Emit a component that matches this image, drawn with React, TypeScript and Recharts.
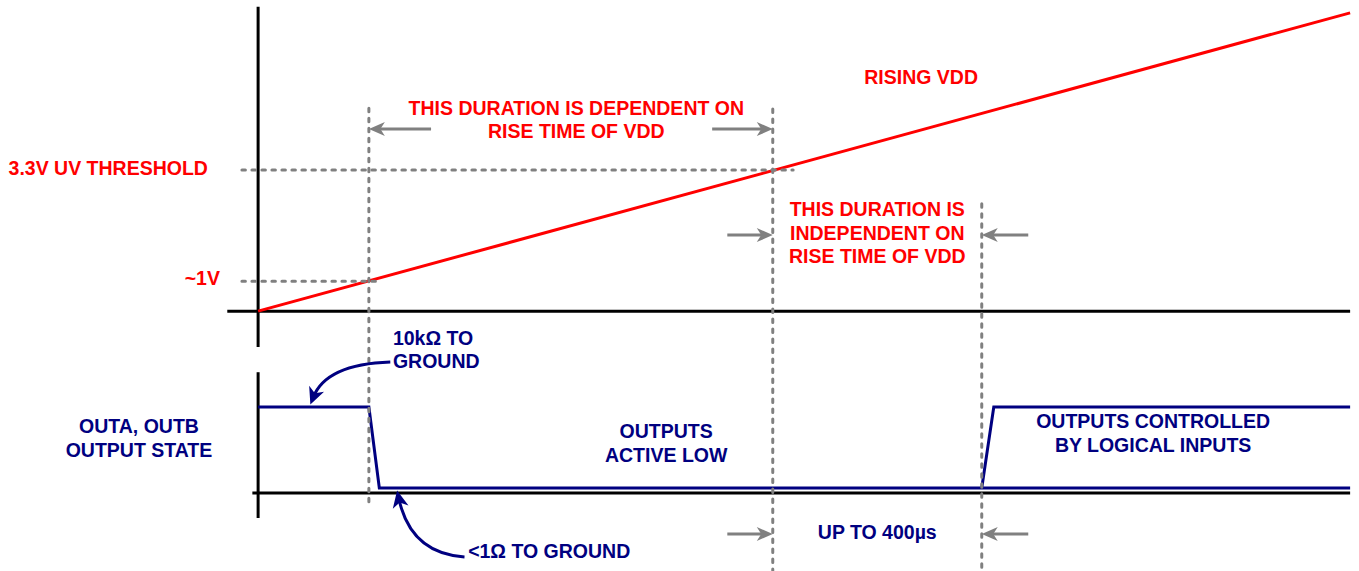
import React from 'react';
import { ComposedChart, XAxis, YAxis, Line, ReferenceLine, ReferenceDot } from 'recharts';

// ---- scales (time in µs, VDD in volts, output state 0 = low / 1 = high) ----
const timeDomain = [-494, 2107];
const voltDomain = [-6.08, 7.28];
const stateDomain = [-1.024, 6.025];

// ---- key instants (µs) ----
const t1V = 212;
const tUV = 985;
const tReady = 1385; // tUV + up to 400 µs
const tEnd = 2090;

// ---- VDD ramp ----
const vddTimes = [0, tEnd];
const vddVolts = [0, 6.98];

// ---- output state waveform ----
const outLowTimes = [0, t1V, 232, tEnd];
const outLowStates = [1, 1, 0, 0];
const outHighTimes = [tReady, 1408, tEnd];
const outHighStates = [0, 1, 1];

// ---- axes of both panels ----
const topAxisTimes = [-59, tEnd];
const topAxisVolts = [7.12, -0.84];
const bottomAxisTimes = [-11, tEnd];
const bottomAxisStates = [1.43, -0.37];
const bottomAxisLevel = -0.06;

// ---- dashed guides ----
const guideStart = -31;
const hGuideLevels = [3.3, 0.7];
const hGuideEnds = [1024, 233];
const vGuideTimes = [t1V, tUV, tReady];
const vGuideTops = [4.75, 4.73, 2.51];
const vGuideBottoms = [-4.59, -6.08, -6.08];

// ---- gray dimension arrows (tail time, tip time, level) ----
const voltArrowTails = [331, 869, 898, 1474];
const voltArrowTips = [t1V, tUV, tUV, tReady];
const voltArrowLevels = [4.26, 4.26, 1.78, 1.78];
const stateArrowTails = [898, 1474];
const stateArrowTips = [tUV, tReady];
const stateArrowLevel = -0.567;

// ---- curved callouts (state axis) ----
const calloutFrom = [
  { t: 253, s: 1.556 },
  { t: 395, s: -0.85 },
];
const calloutTo = [
  { t: 100, s: 1.03 },
  { t: 266, s: -0.03 },
];

// ---- labels ----
const voltLabelText = [
  ['3.3V UV THRESHOLD'],
  ['~1V'],
  ['THIS DURATION IS DEPENDENT ON', 'RISE TIME OF VDD'],
  ['RISING VDD'],
  ['THIS DURATION IS', 'INDEPENDENT ON', 'RISE TIME OF VDD'],
];
const voltLabelTimes = [-96, -73, 609, 1269, 1185];
const voltLabelLevels = [3.185, 0.61, 4.59, 5.31, 2.225];
const voltLabelAnchors = ['end', 'end', 'middle', 'middle', 'middle'];

const stateLabelText = [
  ['OUTA, OUTB', 'OUTPUT STATE'],
  ['10kΩ TO', 'GROUND'],
  ['OUTPUTS', 'ACTIVE LOW'],
  ['OUTPUTS CONTROLLED', 'BY LOGICAL INPUTS'],
  ['<1Ω TO GROUND'],
  ['UP TO 400µs'],
];
const stateLabelTimes = [-228, 258, 781, 1713, 402, 1185];
const stateLabelLevels = [0.679, 1.766, 0.617, 0.741, -0.864, -0.629];
const stateLabelAnchors = ['middle', 'start', 'middle', 'middle', 'start', 'middle'];

// ---- styles ----
const RED = '#ff0000';
const NAVY = '#000080';
const GRAY = '#808080';
const BLACK = '#000000';
const FONT = "'Liberation Sans', Arial, Helvetica, sans-serif";
const FONT_SIZE = 19.5;
const LINE_H = 23.5;

const vddData = vddTimes.map((t, i) => ({ t, v: vddVolts[i] }));
const outLowData = outLowTimes.map((t, i) => ({ t, s: outLowStates[i] }));
const outHighData = outHighTimes.map((t, i) => ({ t, s: outHighStates[i] }));

const textShape = (lines: string[], anchor: string, color: string) => (p: any) => (
  <text
    x={p.cx}
    y={p.cy}
    textAnchor={anchor as any}
    fill={color}
    style={{ fontFamily: FONT, fontSize: FONT_SIZE, fontWeight: 700 }}
  >
    {lines.map((l, i) => (
      <tspan key={i} x={p.cx} dy={i === 0 ? 0 : LINE_H}>
        {l}
      </tspan>
    ))}
  </text>
);

const headPoints = (tipX: number, tipY: number, ux: number, uy: number, len: number, half: number) => {
  const nx = -uy;
  const ny = ux;
  const bx = tipX - ux * len;
  const by = tipY - uy * len;
  const mx = tipX - ux * len * 0.72;
  const my = tipY - uy * len * 0.72;
  return `${tipX},${tipY} ${bx + nx * half},${by + ny * half} ${mx},${my} ${bx - nx * half},${by - ny * half}`;
};

const straightArrow = (color: string) => (p: any) => {
  const { x1, y1, x2, y2 } = p;
  const dx = x2 - x1;
  const dy = y2 - y1;
  const d = Math.hypot(dx, dy) || 1;
  const ux = dx / d;
  const uy = dy / d;
  const len = 16;
  return (
    <g>
      <line x1={x1} y1={y1} x2={x2 - ux * len * 0.6} y2={y2 - uy * len * 0.6} stroke={color} strokeWidth={3} />
      <polygon points={headPoints(x2, y2, ux, uy, len, 7)} fill={color} />
    </g>
  );
};

const curvedArrow = (color: string) => (p: any) => {
  const { x1, y1, x2, y2 } = p;
  const cx = x2 + 0.2 * (x1 - x2);
  const cy = y1 + 0.05 * (y2 - y1);
  const dx = x2 - cx;
  const dy = y2 - cy;
  const d = Math.hypot(dx, dy) || 1;
  const ux = dx / d;
  const uy = dy / d;
  const len = 17;
  return (
    <g>
      <path d={`M${x1},${y1} Q${cx},${cy} ${x2 - ux * 8},${y2 - uy * 8}`} stroke={color} strokeWidth={3} fill="none" />
      <polygon points={headPoints(x2, y2, ux, uy, len, 8)} fill={color} />
    </g>
  );
};

const plainLine = (color: string, width: number, dash?: string) => (p: any) => (
  <line
    x1={p.x1}
    y1={p.y1}
    x2={p.x2}
    y2={p.y2}
    stroke={color}
    strokeWidth={width}
    strokeDasharray={dash}
    strokeLinecap={dash ? 'round' : 'butt'}
  />
);

const DASH = '3.5 6.5';

export default function App() {
  return (
    <div style={{ position: 'absolute', left: 0, top: 0, background: '#fff' }}>
      <ComposedChart width={1359} height={571} margin={{ top: 0, right: 0, bottom: 0, left: 0 }}>
        <XAxis type="number" dataKey="t" domain={timeDomain} hide allowDataOverflow />
        <YAxis yAxisId="v" type="number" domain={voltDomain} hide allowDataOverflow />
        <YAxis yAxisId="s" type="number" domain={stateDomain} hide allowDataOverflow />

        {/* axes */}
        <ReferenceLine
          yAxisId="v"
          ifOverflow="visible"
          segment={[{ x: topAxisTimes[0], y: 0 }, { x: topAxisTimes[1], y: 0 }]}
          shape={plainLine(BLACK, 3)}
        />
        <ReferenceLine
          yAxisId="v"
          ifOverflow="visible"
          segment={[{ x: 0, y: topAxisVolts[0] }, { x: 0, y: topAxisVolts[1] }]}
          shape={plainLine(BLACK, 3)}
        />
        <ReferenceLine
          yAxisId="s"
          ifOverflow="visible"
          segment={[{ x: bottomAxisTimes[0], y: bottomAxisLevel }, { x: bottomAxisTimes[1], y: bottomAxisLevel }]}
          shape={plainLine(BLACK, 3)}
        />
        <ReferenceLine
          yAxisId="s"
          ifOverflow="visible"
          segment={[{ x: 0, y: bottomAxisStates[0] }, { x: 0, y: bottomAxisStates[1] }]}
          shape={plainLine(BLACK, 3)}
        />

        {/* signals */}
        <Line
          yAxisId="v"
          data={vddData}
          dataKey="v"
          type="linear"
          stroke={RED}
          strokeWidth={3}
          dot={false}
          activeDot={false}
          isAnimationActive={false}
        />
        <Line
          yAxisId="s"
          data={outLowData}
          dataKey="s"
          type="linear"
          stroke={NAVY}
          strokeWidth={3}
          dot={false}
          activeDot={false}
          isAnimationActive={false}
        />
        <Line
          yAxisId="s"
          data={outHighData}
          dataKey="s"
          type="linear"
          stroke={NAVY}
          strokeWidth={3}
          dot={false}
          activeDot={false}
          isAnimationActive={false}
        />

        {/* dashed guides */}
        {hGuideLevels.map((lv, i) => (
          <ReferenceLine
            key={`hg${i}`}
            yAxisId="v"
            ifOverflow="visible"
            segment={[{ x: guideStart, y: lv }, { x: hGuideEnds[i], y: lv }]}
            shape={plainLine(GRAY, 3, DASH)}
          />
        ))}
        {vGuideTimes.map((t, i) => (
          <ReferenceLine
            key={`vg${i}`}
            yAxisId="v"
            ifOverflow="visible"
            segment={[{ x: t, y: vGuideTops[i] }, { x: t, y: vGuideBottoms[i] }]}
            shape={plainLine(GRAY, 3, DASH)}
          />
        ))}

        {/* gray arrows */}
        {voltArrowTails.map((t, i) => (
          <ReferenceLine
            key={`va${i}`}
            yAxisId="v"
            ifOverflow="visible"
            segment={[{ x: t, y: voltArrowLevels[i] }, { x: voltArrowTips[i], y: voltArrowLevels[i] }]}
            shape={straightArrow(GRAY)}
          />
        ))}
        {stateArrowTails.map((t, i) => (
          <ReferenceLine
            key={`sa${i}`}
            yAxisId="s"
            ifOverflow="visible"
            segment={[{ x: t, y: stateArrowLevel }, { x: stateArrowTips[i], y: stateArrowLevel }]}
            shape={straightArrow(GRAY)}
          />
        ))}

        {/* curved callouts */}
        {calloutFrom.map((f, i) => (
          <ReferenceLine
            key={`ca${i}`}
            yAxisId="s"
            ifOverflow="visible"
            segment={[{ x: f.t, y: f.s }, { x: calloutTo[i].t, y: calloutTo[i].s }]}
            shape={curvedArrow(NAVY)}
          />
        ))}

        {/* labels */}
        {voltLabelText.map((lines, i) => (
          <ReferenceDot
            key={`vl${i}`}
            yAxisId="v"
            x={voltLabelTimes[i]}
            y={voltLabelLevels[i]}
            r={0}
            ifOverflow="visible"
            shape={textShape(lines, voltLabelAnchors[i], RED)}
          />
        ))}
        {stateLabelText.map((lines, i) => (
          <ReferenceDot
            key={`sl${i}`}
            yAxisId="s"
            x={stateLabelTimes[i]}
            y={stateLabelLevels[i]}
            r={0}
            ifOverflow="visible"
            shape={textShape(lines, stateLabelAnchors[i], NAVY)}
          />
        ))}
      </ComposedChart>
    </div>
  );
}
